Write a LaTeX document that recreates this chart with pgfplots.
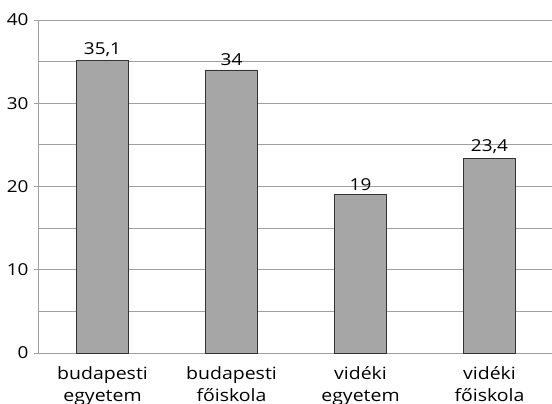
\documentclass[border=0pt]{standalone}
\usepackage{pgfplots}
\pgfplotsset{compat=1.18}
\usepackage{fontspec}
\setmainfont[FakeStretch=1.15]{Open Sans}
\definecolor{gridc}{RGB}{160,160,160}
\definecolor{barc}{RGB}{166,166,166}
\begin{document}
\begin{tikzpicture}
\begin{axis}[
  at={(0,0)}, anchor=south west,
  scale only axis,
  width=516bp, height=333bp,
  xmin=-0.5, xmax=3.5,
  ymin=0, ymax=40,
  axis x line=bottom, axis y line=left,
  axis line style={gridc, -},
  x axis line style={gridc,-},
  ytick={0,10,20,30,40},
  minor ytick={5,15,25,35},
  ymajorgrids, yminorgrids,
  grid style={gridc, line width=0.8pt},
  minor grid style={gridc, line width=0.8pt},
  major tick length=4bp,
  minor tick length=0pt,
  tick style={gridc, line width=0.8pt},
  ytick style={gridc},
  tick align=outside,
  xtick={0,1,2,3},
  xticklabels={budapesti\\egyetem, budapesti\\főiskola, vidéki\\egyetem, vidéki\\főiskola},
  x tick style={draw=none},
  extra x ticks={0.5,1.5,2.5},
  extra x tick labels={},
  extra x tick style={tick style={gridc, line width=0.8pt}, major tick length=4bp},
  xticklabel style={align=center, font=\fontsize{17}{22.5}\selectfont, yshift=-6bp},
  yticklabel style={font=\fontsize{16.5}{18}\selectfont, xshift=-2bp},
  /pgf/number format/assume math mode=true,
  /pgf/number format/use comma,
  ybar, bar width=52bp,
  nodes near coords,
  every node near coord/.append style={font=\fontsize{16.5}{18}\selectfont, inner sep=4bp},
  clip=false,
]
\addplot[fill=barc, draw=black!80, line width=0.8pt] coordinates {(0,35.1) (1,34) (2,19) (3,23.4)};
\end{axis}
\pgfresetboundingbox
\path[use as bounding box] (-38bp,-51bp) rectangle (514bp,353bp);
\end{tikzpicture}
\end{document}
